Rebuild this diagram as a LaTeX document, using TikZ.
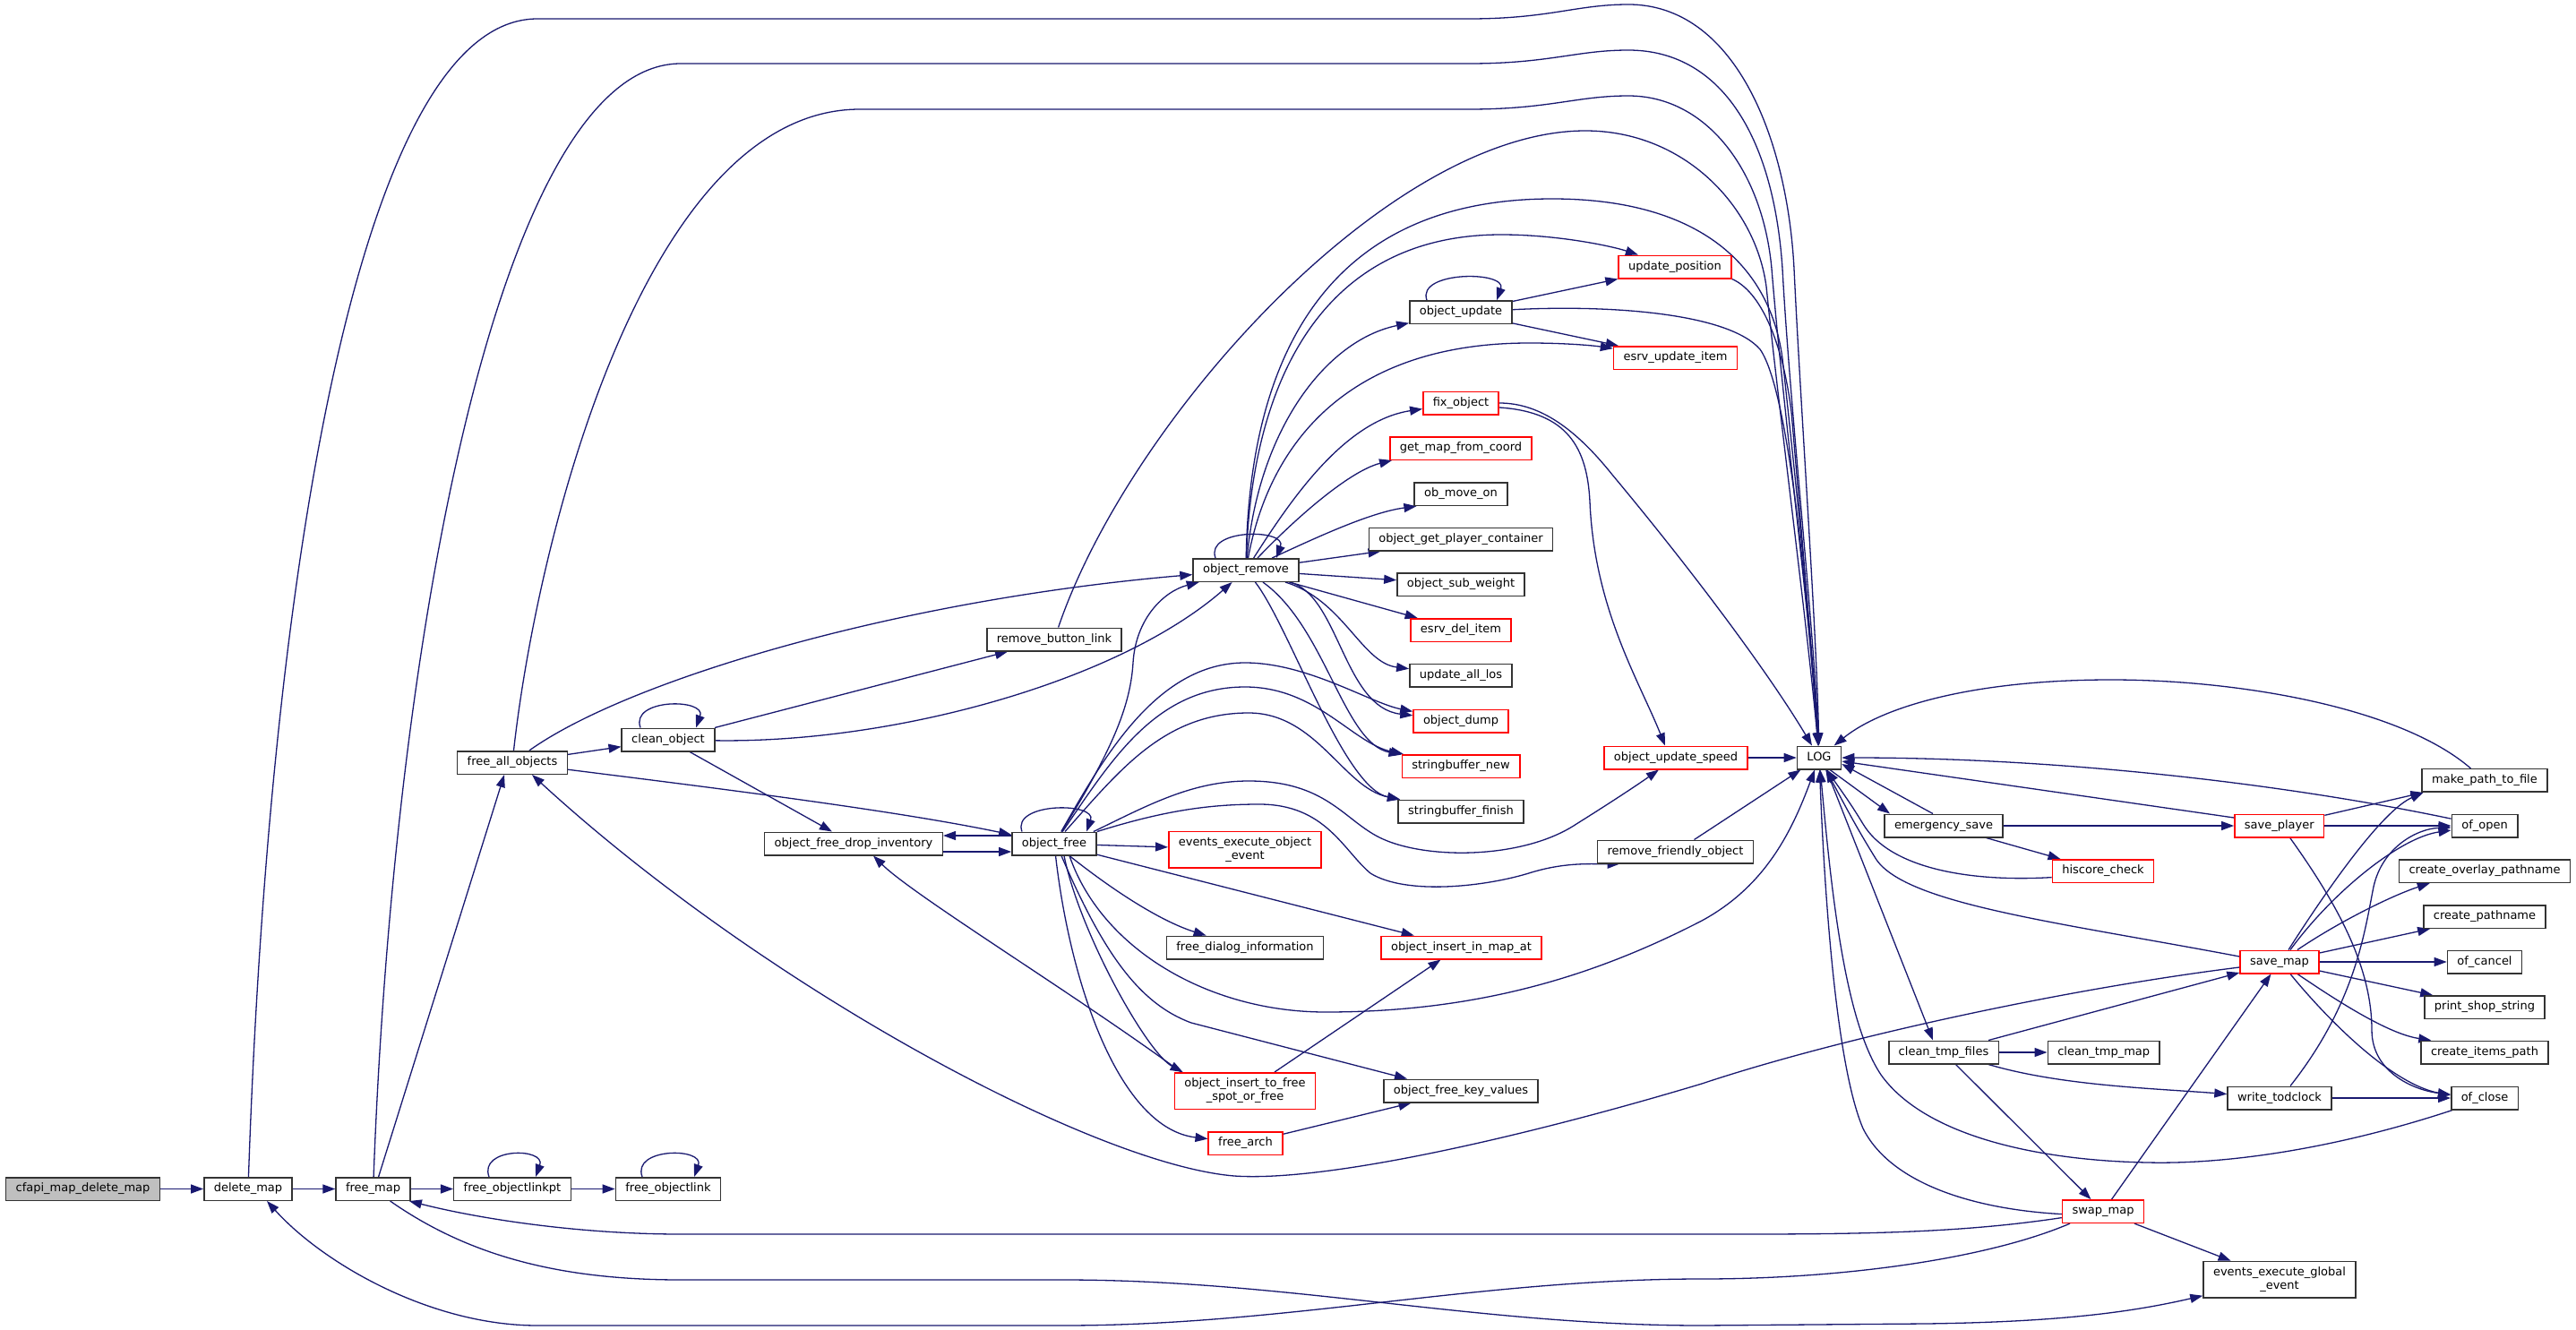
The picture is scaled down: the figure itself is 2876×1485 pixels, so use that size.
\documentclass[tikz,border=0pt]{standalone}
\usepackage{fontspec}
\setmainfont{DejaVu Sans}
\usetikzlibrary{arrows.meta}
\definecolor{edgec}{HTML}{191970}
\definecolor{boxc}{HTML}{333333}
\pgfdeclarelayer{background}
\pgfsetlayers{background,main}
\tikzset{
 nbase/.style={draw=boxc, line width=1.5pt, fill=white, font=\fontsize{13pt}{15pt}\selectfont, inner xsep=11pt, inner ysep=0pt},
 nb/.style={nbase, minimum height=25.5pt, text height=9.5pt, text depth=3pt},
 rb/.style={nb, draw=red},
 nb2/.style={nbase, align=center, minimum height=40.5pt},
 rb2/.style={nb2, draw=red},
 callarrow/.style={draw=edgec, line width=1.3pt, -{Triangle[length=14pt,width=10pt]}},
}
\begin{document}
\begin{tikzpicture}[x=1pt,y=-1pt]
\useasboundingbox (0,0) rectangle (2876,1485);
% nodes
\node[nb, fill=black!25] (cf) at (92.5,1327.5) {cfapi\_map\_delete\_map};
\node[nb] (dm) at (277,1327.5) {delete\_map};
\node[nb] (fm) at (416.6,1327.5) {free\_map};
\node[nb] (folpt) at (572,1327.5) {free\_objectlinkpt};
\node[nb] (fol) at (746,1327.5) {free\_objectlink};
\node[nb] (fao) at (572,851.5) {free\_all\_objects};
\node[nb] (co) at (746,826) {clean\_object};
\node[nb] (rbl) at (1177,714) {remove\_button\_link};
\node[nb] (orm) at (1391,636.5) {object\_remove};
\node[nb] (ofdi) at (953,942) {object\_free\_drop\_inventory};
\node[nb] (of) at (1177,942) {object\_free};
\node[rb2] (eeoe) at (1390,948.5) {events\_execute\_object\\\_event};
\node[nb] (ou) at (1631,348.7) {object\_update};
\node[rb] (up) at (1870,298) {update\_position};
\node[rb] (eui) at (1870.5,399.5) {esrv\_update\_item};
\node[rb] (fo) at (1631,450) {fix\_object};
\node[rb] (gmfc) at (1631,500.5) {get\_map\_from\_coord};
\node[nb] (omo) at (1631,551.7) {ob\_move\_on};
\node[nb] (ogpc) at (1631,602) {object\_get\_player\_container};
\node[nb] (osw) at (1631,652.5) {object\_sub\_weight};
\node[rb] (edi) at (1631,703.5) {esrv\_del\_item};
\node[nb] (ual) at (1631,754) {update\_all\_los};
\node[rb] (od) at (1631,805) {object\_dump};
\node[rb] (sbn) at (1631,855.5) {stringbuffer\_new};
\node[nb] (sbf) at (1631,906) {stringbuffer\_finish};
\node[rb] (ous) at (1871,846) {object\_update\_speed};
\node[nb] (LOG) at (2031,846) {LOG};
\node[nb] (rfo) at (1870.5,951) {remove\_friendly\_object};
\node[nb] (fdi) at (1390,1058) {free\_dialog\_information};
\node[rb] (oima) at (1631.5,1058) {object\_insert\_in\_map\_at};
\node[rb2] (oitfs) at (1390,1218) {object\_insert\_to\_free\\\_spot\_or\_free};
\node[nb] (ofkv) at (1631,1218) {object\_free\_key\_values};
\node[rb] (fa) at (1390.5,1276.5) {free\_arch};
\node[nb] (es) at (2170,922) {emergency\_save};
\node[rb] (sp) at (2544.7,922) {save\_player};
\node[rb] (hc) at (2348,972.6) {hiscore\_check};
\node[nb] (mptf) at (2774,871.4) {make\_path\_to\_file};
\node[nb] (oo) at (2774,922) {of\_open};
\node[nb] (cop) at (2774,972.6) {create\_overlay\_pathname};
\node[nb] (cp) at (2774,1023.5) {create\_pathname};
\node[nb] (oc) at (2774,1074) {of\_cancel};
\node[nb] (pss) at (2774,1124.7) {print\_shop\_string};
\node[nb] (cip) at (2774,1175) {create\_items\_path};
\node[nb] (ocl) at (2774,1226) {of\_close};
\node[rb] (sm) at (2545,1074) {save\_map};
\node[nb] (ctf) at (2170,1175) {clean\_tmp\_files};
\node[nb] (ctm) at (2348.7,1175) {clean\_tmp\_map};
\node[nb] (wt) at (2545,1226) {write\_todclock};
\node[rb] (swm) at (2348,1352.6) {swap\_map};
\node[nb2] (eege) at (2545,1428.7) {events\_execute\_global\\\_event};

\begin{pgfonlayer}{background}
\fill[white] (0,0) rectangle (2876,1485);
% left chain
\draw[callarrow] (cf) -- (dm);
\draw[callarrow] (dm) -- (fm);
\draw[callarrow] (fm) -- (folpt);
\draw[callarrow] (folpt) -- (fol);
\draw[callarrow] ([xshift=-26pt]folpt.north) .. controls +(-12,-33) and +(12,-33) .. ([xshift=26pt]folpt.north);
\draw[callarrow] ([xshift=-29pt]fol.north) .. controls +(-12,-33) and +(12,-33) .. ([xshift=29pt]fol.north);
\draw[callarrow] ([xshift=-31pt]co.north) .. controls +(-12,-33) and +(12,-33) .. ([xshift=31pt]co.north);
\draw[callarrow] ([xshift=-36pt]of.north) .. controls +(-12,-33) and +(12,-33) .. ([xshift=36pt]of.north);
\draw[callarrow] ([xshift=-34pt]orm.north) .. controls +(-12,-33) and +(12,-33) .. ([xshift=34pt]orm.north);
\draw[callarrow] ([xshift=-38pt]ou.north) .. controls +(-12,-33) and +(12,-33) .. ([xshift=40pt]ou.north);
% long top edges to LOG
\draw[callarrow] (dm) .. controls (300,650) and (400,21) .. (600,21) -- (1640,21) .. controls (1730,21) and (1760,5) .. (1818,5) .. controls (1935,5) and (1995,150) .. (2003,300) .. controls (2010,450) and (2028,700) .. (LOG);
\draw[callarrow] (fm) .. controls (440,700) and (560,71) .. (760,71) -- (1640,71) .. controls (1730,71) and (1760,56) .. (1818,56) .. controls (1920,56) and (1980,150) .. (1990,300) .. controls (1998,450) and (2025,700) .. (LOG);
\draw[callarrow] (fao) .. controls (600,600) and (720,122) .. (960,122) -- (1640,122) .. controls (1730,122) and (1760,107) .. (1818,107) .. controls (1905,107) and (1968,190) .. (1978,300) .. controls (1990,450) and (2022,700) .. (LOG);
\draw[callarrow] (rbl) .. controls (1260,470) and (1550,146) .. (1770,146) .. controls (1880,146) and (1960,230) .. (1972,320) .. controls (1985,450) and (2018,700) .. (LOG);
\draw[callarrow] (orm) .. controls (1395,400) and (1480,222) .. (1733,222) .. controls (1890,222) and (1975,290) .. (1990,400) .. controls (2003,520) and (2022,700) .. (LOG);
% object_remove fan
\draw[callarrow] (orm) .. controls (1398,420) and (1480,262) .. (1676,262) .. controls (1740,262) and (1800,275) .. (up);
\draw[callarrow] (orm) .. controls (1405,480) and (1480,380) .. (ou);
\draw[callarrow] (orm) .. controls (1420,480) and (1520,383) .. (1707,383) .. controls (1750,383) and (1780,386) .. (eui);
\draw[callarrow] (orm) .. controls (1440,560) and (1500,470) .. (fo);
\draw[callarrow] (orm) .. controls (1455,570) and (1510,525) .. ([xshift=3pt]gmfc.south west);
\draw[callarrow] (orm) .. controls (1470,600) and (1530,572) .. ([xshift=3pt]omo.south west);
\draw[callarrow] (orm) -- ([xshift=14pt]ogpc.south west);
\draw[callarrow] (orm) -- (osw);
\draw[callarrow] (orm) -- (edi);
\draw[callarrow] (orm) .. controls (1500,670) and (1520,740) .. (ual);
\draw[callarrow] (orm) .. controls (1495,665) and (1500,790) .. (od);
\draw[callarrow] (orm) .. controls (1480,700) and (1500,830) .. (sbn);
\draw[callarrow] (orm) .. controls (1440,700) and (1500,880) .. (sbf);
% object_update
\draw[callarrow] (ou) -- (up);
\draw[callarrow] (ou) -- (eui);
\draw[callarrow] (ou) .. controls (1800,340) and (1930,350) .. (1965,390) .. controls (2000,440) and (2020,700) .. (LOG);
\draw[callarrow] (up.south east) .. controls (1965,325) and (1990,380) .. (2000,460) .. controls (2012,600) and (2025,760) .. (LOG);
\draw[callarrow] (fo) .. controls (1720,450) and (1760,480) .. (1800,530) .. controls (1900,650) and (1980,760) .. (LOG);
\draw[callarrow] ([yshift=-5pt]fo.east) .. controls (1750,460) and (1772,500) .. (1775,560) .. controls (1780,680) and (1830,760) .. ([xshift=-12pt]ous.north);
\draw[callarrow] (ous) -- (LOG);
% free_all_objects / clean_object
\draw[callarrow] ([xshift=6pt]fm.north) -- ([xshift=-9pt]fao.south);
\draw[callarrow] (fao) -- (co);
\draw[callarrow] (fao) .. controls (700,760) and (1000,670) .. (orm);
\draw[callarrow] (fao) .. controls (800,880) and (1000,905) .. (of);
\draw[callarrow] (co) -- (rbl);
\draw[callarrow] (co) .. controls (1000,830) and (1250,760) .. (orm);
\draw[callarrow] (co) -- (ofdi);
% object_free
\draw[callarrow] ([yshift=9pt]of.west) -- ([yshift=9pt]ofdi.east);
\draw[callarrow] ([yshift=-9pt]ofdi.east) -- ([yshift=-9pt]of.west);
\draw[callarrow] (of) .. controls (1240,840) and (1262,790) .. (1265,740) .. controls (1268,690) and (1300,660) .. (orm);
\draw[callarrow] (of) -- (eeoe);
\draw[callarrow] (of) .. controls (1250,1000) and (1300,1030) .. (fdi);
\draw[callarrow] (of) -- (oima);
\draw[callarrow] ([xshift=11pt]of.south) .. controls (1205,1040) and (1280,1175) .. ([xshift=10pt]oitfs.north west);
\draw[callarrow] (of) .. controls (1195,1100) and (1250,1260) .. (fa);
\draw[callarrow] ([xshift=8pt]of.south) .. controls (1230,1060) and (1270,1120) .. (1330,1142) -- ([xshift=-60pt]ofkv.north);
\draw[callarrow] (of) .. controls (1230,850) and (1290,740) .. (1390,740) .. controls (1460,740) and (1530,785) .. (od);
\draw[callarrow] (of) .. controls (1240,850) and (1290,767) .. (1390,767) .. controls (1470,767) and (1510,830) .. (sbn);
\draw[callarrow] (of) .. controls (1250,860) and (1300,796) .. (1394,796) .. controls (1470,796) and (1500,880) .. (sbf);
\draw[callarrow] ([xshift=-4pt]of.north east) .. controls (1280,900) and (1330,872) .. (1394,872) .. controls (1480,872) and (1500,915) .. (1540,935) .. controls (1590,960) and (1700,960) .. (1760,920) .. controls (1800,895) and (1830,875) .. (ous);
\draw[callarrow] (of.north east) .. controls (1300,905) and (1350,898) .. (1406,898) .. controls (1480,898) and (1500,950) .. (1530,975) .. controls (1570,1000) and (1660,990) .. (1710,974) .. controls (1750,962) and (1780,965) .. ([xshift=-62pt]rfo.south);
\draw[callarrow] ([xshift=21pt]rfo.north) -- (LOG);
\draw[callarrow] ([xshift=17pt]of.south) .. controls (1230,1060) and (1350,1130) .. (1480,1130) .. controls (1650,1130) and (1780,1090) .. (1900,1028) .. controls (1970,990) and (2000,930) .. (LOG);
\draw[callarrow] ([xshift=8pt]oitfs.north west) .. controls (1200,1110) and (1020,1000) .. ([xshift=22pt]ofdi.south);
\draw[callarrow] ([xshift=33pt]oitfs.north) -- ([xshift=-23pt]oima.south);
\draw[callarrow] (fa) -- (ofkv);
% LOG right side
\draw[callarrow] ([xshift=12pt]LOG.south) -- ([xshift=-60pt]es.north);
\draw[callarrow] ([xshift=-12pt]es.north) -- ([yshift=-7pt]LOG.east);
\draw[callarrow] (es) -- (sp);
\draw[callarrow] (es) -- (hc);
\draw[callarrow] ([yshift=-7pt]hc.west) .. controls (2200,985) and (2110,970) .. (2080,920) .. controls (2065,895) and (2050,875) .. (LOG);
\draw[callarrow] ([yshift=9pt]sp.west) -- ([yshift=-4pt]LOG.east);
\draw[callarrow] (sp) -- ([xshift=2pt]mptf.south west);
\draw[callarrow] (sp) -- (oo);
\draw[callarrow] ([xshift=12pt]sp.south) .. controls (2610,1010) and (2648,1080) .. (2648,1150) .. controls (2648,1200) and (2700,1218) .. (ocl);
\draw[callarrow] (mptf) .. controls (2680,790) and (2500,759) .. (2357,759) .. controls (2200,759) and (2100,790) .. (LOG);
\draw[callarrow] (oo) .. controls (2550,875) and (2300,846) .. (LOG);
\draw[callarrow] ([xshift=2pt]ocl.south west) .. controls (2600,1285) and (2480,1300) .. (2398,1298) .. controls (2280,1296) and (2150,1270) .. (2100,1200) .. controls (2060,1140) and (2045,1000) .. (LOG);
% save_map
\draw[callarrow] ([yshift=6pt]sm.west) .. controls (2300,1030) and (2130,1010) .. (2095,960) .. controls (2070,920) and (2055,890) .. (LOG);
\draw[callarrow] ([yshift=-6pt]sm.west) .. controls (2300,1105) and (2050,1160) .. (1900,1210) .. controls (1700,1270) and (1480,1320) .. (1378,1313) .. controls (1220,1300) and (850,1100) .. ([xshift=22pt]fao.south);
\draw[callarrow] ([xshift=10pt]sm.north) .. controls (2600,990) and (2660,905) .. ([xshift=2pt]mptf.south west);
\draw[callarrow] ([xshift=12pt]sm.north) .. controls (2605,995) and (2680,935) .. ([yshift=-5pt]oo.west);
\draw[callarrow] ([xshift=20pt]sm.north) .. controls (2610,1030) and (2670,1000) .. ([xshift=35pt]cop.south west);
\draw[callarrow] ([yshift=10pt]sm.east) -- ([xshift=8pt]cp.south west);
\draw[callarrow] (sm) -- (oc);
\draw[callarrow] ([yshift=-10pt]sm.east) -- ([xshift=10pt]pss.north west);
\draw[callarrow] ([xshift=20pt]sm.south) .. controls (2620,1125) and (2670,1155) .. ([xshift=12pt]cip.north west);
\draw[callarrow] ([xshift=12pt]sm.south) .. controls (2600,1140) and (2670,1210) .. ([yshift=3pt]ocl.west);
% clean_tmp_files, write_todclock
\draw[callarrow] ([xshift=8pt]LOG.south) -- ([xshift=-12pt]ctf.north);
\draw[callarrow] (ctf) -- (sm);
\draw[callarrow] (ctf) -- (ctm);
\draw[callarrow] ([xshift=50pt]ctf.south) .. controls (2300,1212) and (2400,1215) .. (wt);
\draw[callarrow] (ctf) -- (swm);
\draw[callarrow] ([xshift=12pt]wt.north) .. controls (2630,1120) and (2640,1040) .. (2650,990) .. controls (2660,945) and (2700,925) .. ([yshift=-2pt]oo.west);
\draw[callarrow] (wt) -- (ocl);
% swap_map
\draw[callarrow] ([yshift=-3pt]swm.west) .. controls (2200,1350) and (2110,1320) .. (2080,1260) .. controls (2050,1190) and (2037,1000) .. (LOG);
\draw[callarrow] (swm) -- (sm);
\draw[callarrow] (swm) -- (eege);
\draw[callarrow] ([yshift=-7pt]swm.west) .. controls (2200,1375) and (2100,1378) .. (1950,1378) -- (760,1378) .. controls (650,1378) and (540,1362) .. ([xshift=-2pt]fm.south east);
\draw[callarrow] ([xshift=-37pt]swm.south) .. controls (2220,1405) and (2060,1428) .. (1900,1428) .. controls (1650,1428) and (1437,1480) .. (1187,1480) -- (600,1480) .. controls (480,1480) and (360,1410) .. ([xshift=21pt]dm.south);
\draw[callarrow] ([xshift=19pt]fm.south) .. controls (520,1400) and (620,1429) .. (760,1429) -- (1187,1429) .. controls (1437,1429) and (1650,1480) .. (1900,1480) -- (2150,1478) .. controls (2300,1476) and (2380,1465) .. ([yshift=3pt]eege.south west);
\end{pgfonlayer}
\end{tikzpicture}
\end{document}
